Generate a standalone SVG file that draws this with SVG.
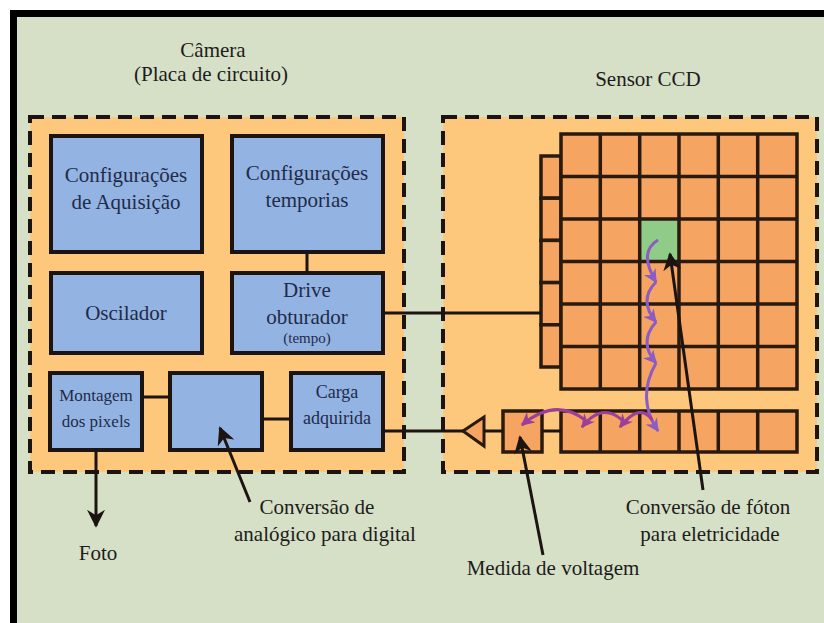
<svg xmlns="http://www.w3.org/2000/svg" width="824" height="623" viewBox="0 0 824 623">
<defs>
<style>
.t{font-family:"Liberation Serif","Tinos","Times New Roman","DejaVu Serif","Noto Serif",serif;font-size:21px;fill:#1c1c1c;text-anchor:middle}
.b{fill:#1f2b4a}
.blk{fill:#93b3e2;stroke:#1b1410;stroke-width:4}
.dash{fill:#fec87c;stroke:#1b1410;stroke-width:4;stroke-dasharray:14 8}
.cell{fill:#f6a462;stroke:#2a1a0e;stroke-width:3.5}
.ln{stroke:#1b1410;stroke-width:3;fill:none}
.pv{stroke:#8a5cc4;stroke-width:3;fill:none;marker-end:url(#pv)}
.pm{stroke:#9c3f98;stroke-width:3;fill:none;marker-end:url(#pm)}
</style>
<marker id="ah" viewBox="0 0 10 10" refX="9" refY="5" markerWidth="6" markerHeight="6" orient="auto" markerUnits="strokeWidth">
<path d="M0,0 L10,5 L0,10 L3,5 Z" fill="#1b1410"/>
</marker>
<marker id="pv" viewBox="0 0 10 10" refX="9" refY="5" markerWidth="4.5" markerHeight="4.5" orient="auto" markerUnits="strokeWidth">
<path d="M0,0 L10,5 L0,10 L3,5 Z" fill="#8a5cc4"/>
</marker>
<marker id="pm" viewBox="0 0 10 10" refX="9" refY="5" markerWidth="4.5" markerHeight="4.5" orient="auto" markerUnits="strokeWidth">
<path d="M0,0 L10,5 L0,10 L3,5 Z" fill="#9c3f98"/>
</marker>
</defs>
<rect x="0" y="0" width="824" height="623" fill="#ffffff"/>
<rect x="10" y="10" width="814" height="613" fill="#d6e0c6"/>
<rect x="10" y="10" width="814" height="7" fill="#000"/>
<rect x="10" y="10" width="7" height="613" fill="#000"/>

<g id="titles">
<text class="t" x="213" y="57">Câmera</text>
<text class="t" x="211" y="81">(Placa de circuito)</text>
<text class="t" x="648" y="86">Sensor CCD</text>
</g>

<g id="camera">
<rect class="dash" x="30" y="117" width="374" height="355"/>
</g>
<g id="sensor">
<rect class="dash" x="443" y="117" width="374" height="355"/>
</g>

<g id="config-aquisicao">
<rect class="blk" x="51" y="136" width="151" height="116"/>
<text class="t b" x="126" y="182">Configurações</text>
<text class="t b" x="126" y="209">de Aquisição</text>
</g>
<g id="config-temporias">
<rect class="blk" x="232" y="136" width="151" height="116"/>
<text class="t b" x="307" y="180">Configurações</text>
<text class="t b" x="307" y="207">temporias</text>
</g>
<g id="oscilador">
<rect class="blk" x="51" y="273" width="151" height="80"/>
<text class="t b" x="126" y="320">Oscilador</text>
</g>
<g id="drive-obturador">
<rect class="blk" x="232" y="273" width="151" height="80"/>
<text class="t b" x="307" y="297">Drive</text>
<text class="t b" x="307" y="324">obturador</text>
<text class="t b" x="307" y="343" style="font-size:15px">(tempo)</text>
</g>
<g id="montagem">
<rect class="blk" x="50" y="373" width="92" height="77"/>
<text class="t b" x="96" y="401" style="font-size:17px">Montagem</text>
<text class="t b" x="96" y="427" style="font-size:17px">dos pixels</text>
</g>
<g id="conversor-ad">
<rect class="blk" x="170" y="373" width="92" height="77"/>
</g>
<g id="carga">
<rect class="blk" x="291" y="373" width="92" height="77"/>
<text class="t b" x="337" y="398" style="font-size:18px">Carga</text>
<text class="t b" x="337" y="424" style="font-size:18px">adquirida</text>
</g>

<g id="amplificador">
<polygon points="463,431 484,417 484,446" fill="#f6a462" stroke="#2a1a0e" stroke-width="3"/>
</g>
<g id="celula-saida">
<rect class="cell" x="503" y="411" width="39" height="41"/>
</g>

<g id="registro-lateral">
<rect class="cell" x="541" y="156" width="20" height="42.2"/>
<rect class="cell" x="541" y="198.2" width="20" height="42.2"/>
<rect class="cell" x="541" y="240.4" width="20" height="42.2"/>
<rect class="cell" x="541" y="282.6" width="20" height="42.2"/>
<rect class="cell" x="541" y="324.8" width="20" height="42.2"/>
</g>

<g id="grade-pixels">
<rect x="561" y="134" width="236" height="255" fill="#f6a462"/>
<rect x="639.7" y="219" width="39.3" height="42.5" fill="#90cc88"/>
<path d="M561,134 H797 M561,176.5 H797 M561,219 H797 M561,261.5 H797 M561,304 H797 M561,346.5 H797 M561,389 H797 M561,134 V389 M600.3,134 V389 M639.7,134 V389 M679,134 V389 M718.3,134 V389 M757.7,134 V389 M797,134 V389" stroke="#2a1a0e" stroke-width="3.5" fill="none" stroke-linecap="square"/>
</g>

<g id="registro-horizontal">
<rect x="561" y="411" width="236" height="41" fill="#f6a462"/>
<path d="M561,411 H797 M561,452 H797 M561,411 V452 M600.3,411 V452 M639.7,411 V452 M679,411 V452 M718.3,411 V452 M757.7,411 V452 M797,411 V452" stroke="#2a1a0e" stroke-width="3.5" fill="none" stroke-linecap="square"/>
</g>

<g id="connectors">
<line class="ln" x1="307" y1="252" x2="307" y2="273"/>
<line class="ln" x1="383" y1="313" x2="541" y2="313"/>
<line class="ln" x1="142" y1="397" x2="170" y2="397"/>
<line class="ln" x1="262" y1="419" x2="291" y2="419"/>
<line class="ln" x1="383" y1="431" x2="463" y2="431"/>
<line class="ln" x1="484" y1="431" x2="503" y2="431"/>
<line class="ln" x1="542" y1="431" x2="561" y2="431"/>
<line class="ln" x1="96" y1="452" x2="96" y2="526" marker-end="url(#ah)"/>
<line class="ln" x1="250" y1="502" x2="220" y2="428" stroke-width="2.5" marker-end="url(#ah)"/>
<line class="ln" x1="543" y1="555" x2="520" y2="437" stroke-width="2.5" marker-end="url(#ah)"/>
<line class="ln" x1="703" y1="490" x2="670" y2="254" stroke-width="2.5" marker-end="url(#ah)"/>
</g>

<g id="fluxo-carga">
<path class="pv" d="M658,240 Q638,252 656,282"/>
<path class="pv" d="M656,282 Q638,300 656,322"/>
<path class="pv" d="M656,322 Q638,342 656,363"/>
<path class="pv" d="M656,363 Q636,398 658,431"/>
<path class="pm" d="M652,420 Q640,402 620,427"/>
<path class="pm" d="M622,420 Q602,402 582,427"/>
<path class="pm" d="M585,420 Q555,397 522,425"/>
</g>

<g id="rotulos">
<text class="t" x="98" y="560">Foto</text>
<text class="t" x="317" y="514">Conversão de</text>
<text class="t" x="325" y="541">analógico para digital</text>
<text class="t" x="553" y="575">Medida de voltagem</text>
<text class="t" x="708" y="514">Conversão de fóton</text>
<text class="t" x="710" y="541">para eletricidade</text>
</g>
</svg>
